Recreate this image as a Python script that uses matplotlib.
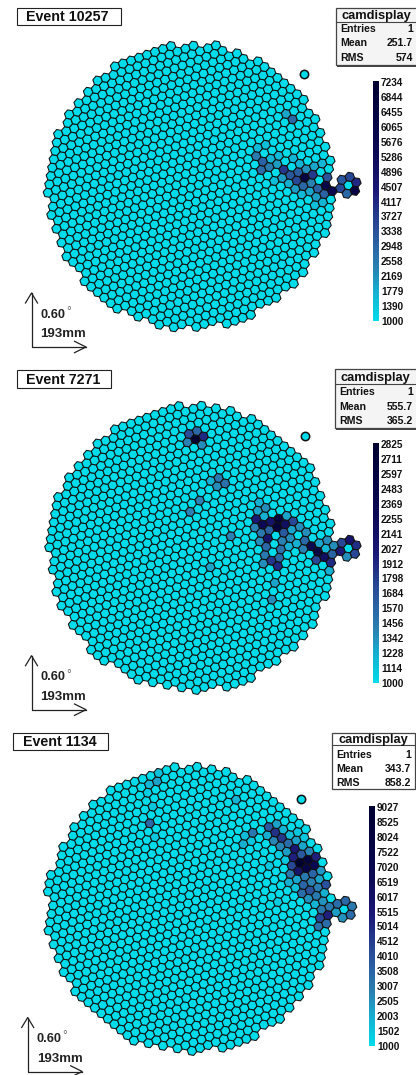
import numpy as np
import matplotlib
matplotlib.use("Agg")
import matplotlib.pyplot as plt
from matplotlib.collections import PolyCollection
from matplotlib.colors import LinearSegmentedColormap, Normalize

# eventi e statistiche
event_names = ["Event 10257", "Event 7271", "Event 1134"]
stat_mean = ["251.7", "555.7", "343.7"]
stat_rms = ["574", "365.2", "858.2"]
scale_labels_1 = [7234, 6844, 6455, 6065, 5676, 5286, 4896, 4507, 4117, 3727, 3338, 2948, 2558, 2169, 1779, 1390, 1000]
scale_labels_2 = [2825, 2711, 2597, 2483, 2369, 2255, 2141, 2027, 1912, 1798, 1684, 1570, 1456, 1342, 1228, 1114, 1000]
scale_labels_3 = [9027, 8525, 8024, 7522, 7020, 6519, 6017, 5515, 5014, 4512, 4010, 3508, 3007, 2505, 2003, 1502, 1000]

hot_x_1 = [175, 193, 85, 107, 83, 103, 98, 122, 148, 130, 150, 164, 190, 212, 183, 207, 160, 135, 178, 203, 226, 250, 230, 252, 272, 292, 245, 222, 197, 265, 289, 312, 307, 283, 258, 220, 240, 277, 262, 335, 358, 378, 372, 348, 328]
hot_y_1 = [165, 180, 260, 245, 287, 300, 325, 318, 310, 290, 285, 327, 300, 318, 345, 335, 350, 360, 368, 360, 352, 345, 330, 320, 315, 350, 370, 378, 385, 385, 377, 368, 393, 400, 408, 402, 393, 425, 443, 360, 350, 368, 393, 402, 385]
hot_v_1 = [1900, 2900, 1600, 1500, 2500, 3000, 2800, 2500, 2000, 1700, 1600, 3800, 1700, 1700, 3200, 3100, 2000, 1500, 1800, 3500, 6300, 3800, 2200, 1900, 1700, 3300, 2400, 2900, 2000, 3000, 6000, 4000, 5700, 3000, 2000, 1600, 1900, 1700, 1500, 3200, 3500, 4100, 6300, 2900, 3500]

hot_x_2 = [99, 122, 143, 119, 94, 137, 160, 184, 204, 180, 127, 98, 218, 155, 345, 335, 322, 302, 297, 293, 316, 338, 360, 385, 403, 313, 288, 332, 355, 378, 397, 422, 308, 374, 440, 328, 302, 370, 392, 415, 437, 322, 455, 364, 390, 435, 480, 502, 318, 360, 337, 312, 356, 473, 470, 492, 517, 512, 495, 525, 508, 545, 570, 590, 584, 560, 541]
hot_y_2 = [68, 60, 77, 86, 93, 101, 208, 200, 217, 226, 265, 298, 372, 462, 512, 562, 290, 275, 298, 322, 314, 332, 322, 315, 331, 340, 347, 355, 348, 340, 357, 348, 365, 365, 365, 381, 390, 390, 382, 398, 390, 406, 406, 413, 407, 413, 398, 390, 430, 437, 447, 455, 463, 422, 447, 439, 431, 456, 414, 405, 480, 397, 388, 405, 430, 440, 422]
hot_v_2 = [1700, 1550, 1900, 2825, 1400, 1360, 1220, 1450, 1500, 1360, 1400, 1400, 1400, 1270, 1270, 1360, 1360, 1220, 1270, 2000, 1220, 2100, 2640, 1270, 1730, 2280, 1400, 1580, 2640, 2190, 1270, 1360, 1450, 1640, 1360, 2100, 1360, 1400, 1360, 1220, 1550, 1550, 2370, 1500, 1220, 1400, 1270, 1360, 1450, 1550, 1820, 1360, 1900, 2550, 1730, 2190, 1580, 1900, 1180, 1360, 1220, 1730, 2100, 1870, 1730, 1360, 2000]

hot_x_3 = [80, 52, 73, 45, 62, 50, 65, 330, 378, 355, 375, 348, 425, 448, 470, 445, 420, 463, 440, 488, 510, 458, 482, 505, 530, 500, 478, 522, 545, 520, 497, 473, 453, 517, 540, 565, 558, 535, 512, 490, 555, 578, 530, 487, 505, 570, 593, 548, 525, 483, 568, 590, 543, 520, 500, 562, 585, 538, 558, 450, 425, 600, 580, 597, 572, 592, 567, 620, 625, 648, 668, 662, 638]
hot_y_3 = [48, 82, 73, 105, 147, 196, 238, 122, 222, 229, 245, 254, 205, 197, 212, 222, 230, 238, 247, 230, 222, 262, 255, 245, 237, 270, 278, 288, 280, 262, 296, 300, 287, 312, 303, 295, 320, 328, 337, 320, 345, 335, 352, 345, 352, 362, 376, 370, 378, 367, 387, 398, 395, 403, 378, 410, 428, 418, 432, 427, 318, 443, 455, 467, 477, 492, 500, 458, 433, 424, 441, 468, 475]
hot_v_3 = [1600, 1800, 2200, 1300, 1500, 3400, 1500, 1900, 3000, 1700, 1500, 2000, 3800, 2200, 1900, 4800, 2000, 4600, 2700, 1700, 1500, 2700, 3300, 2200, 1500, 5500, 2300, 3800, 2700, 2100, 5200, 1500, 1300, 9000, 8000, 5200, 6800, 7500, 5800, 4200, 3500, 2400, 3000, 3000, 2100, 2200, 4000, 2800, 3500, 2000, 2900, 2000, 4000, 3300, 1600, 3000, 2500, 2500, 1900, 1400, 1500, 3000, 3000, 5200, 4200, 3300, 3200, 2300, 3300, 3400, 3000, 3300, 2500]

crop_origin = [(230, 60), (160, 410), (130, 760)]
centers = [(190.5, 186), (191.5, 548), (189.5, 909)]
cluster_pos = [(348.3, 185.3), (348.3, 548.3), (344, 909.3)]
step = 8.5
font = "Liberation Sans"
cmap = LinearSegmentedColormap.from_list("cam", [(0, "#00dcea"), (0.11, "#14b4d4"), (0.22, "#2a82b2"), (0.38, "#2a4f9a"), (0.54, "#1c1a78"), (0.70, "#0c0a55"), (1, "#000030")])


def lattice(center, anchor):
    # griglia esagonale ruotata di circa 20 gradi, agganciata al gruppetto esterno
    a1 = step * np.array([np.cos(np.radians(-20)), np.sin(np.radians(-20))])
    a2 = step * np.array([np.cos(np.radians(-80)), np.sin(np.radians(-80))])
    pts = []
    for i in range(-50, 51):
        for j in range(-50, 51):
            p = i * a1 + j * a2 + np.array(anchor)
            if np.hypot(p[0] - center[0], p[1] - center[1]) < 143:
                pts.append(p)
    pts.append(np.array(anchor))
    for k in range(6):
        t = np.radians(-20 + 60 * k)
        pts.append(np.array(anchor) + step * np.array([np.cos(t), np.sin(t)]))
    return np.array(pts)


def hexagon(x, y, r):
    ang = np.radians(10 + 60 * np.arange(6))
    return np.column_stack([x + r * np.cos(ang), y + r * np.sin(ang)])


fig = plt.figure(figsize=(4.16, 10.75), dpi=100)
ax = fig.add_axes([0, 0, 1, 1])
ax.axis("off")

all_hot = [(hot_x_1, hot_y_1, hot_v_1), (hot_x_2, hot_y_2, hot_v_2), (hot_x_3, hot_y_3, hot_v_3)]
all_scale = [scale_labels_1, scale_labels_2, scale_labels_3]
title_box = [(17, 8, 120.5, 25), (17, 370, 111, 388), (13, 733, 108, 750)]
stats_box = [(336, 8, 420, 65), (335, 369, 420, 428), (332, 733, 415, 789)]
stats_fill = ["#f4f4f4", "#f4f4f4", "white"]
stats_rule = [22, 384, 745]
stats_title = [(376, 16), (375, 378), (373, 740)]
stats_rows = [(29.5, 43.5, 58), (392, 407, 420.5), (755, 768.5, 783)]
stats_right = [413, 413, 411]
bar_box = [(373, 81, 379, 321), (373, 443, 379, 683), (369, 806, 375, 1046)]
arrow_o = [(31.5, 347), (31.5, 709.7), (27.7, 1071.5)]
lone = [(304, 74), (304.7, 436), (301, 798.7)]

for n in range(3):
    pts = lattice(centers[n], cluster_pos[n])
    vals = np.full(len(pts), 1000.0)
    hx, hy, hv = all_hot[n]
    ox, oy = crop_origin[n]
    for x, y, v in zip(hx, hy, hv):
        d = np.hypot(pts[:, 0] - (ox + x / 3), pts[:, 1] - (oy + y / 3))
        vals[np.argmin(d)] = v
    scale = all_scale[n]
    norm = Normalize(scale[-1], scale[0])
    polys = [hexagon(p[0], p[1], step * 0.577) for p in pts]
    ax.add_collection(PolyCollection(polys, array=vals, cmap=cmap, norm=norm, edgecolors="#101010", linewidths=0.75, joinstyle="round"))
    lx, ly = lone[n]
    ax.scatter([lx], [ly], s=36, color=cmap(0.0), edgecolors="#101010", linewidths=1.1, zorder=3)

    # titolo
    x0, y0, x1, y1 = title_box[n]
    ax.fill([x0 + 1, x1 + 1, x1 + 1, x0 + 1], [y0 + 1, y0 + 1, y1 + 1, y1 + 1], color="#aaaaaa", lw=0)
    ax.fill([x0, x1, x1, x0], [y0, y0, y1, y1], facecolor="white", edgecolor="#222222", lw=0.8)
    ax.text((x0 + x1) / 2 - 1, (y0 + y1) / 2 + 0.5, event_names[n], ha="center", va="center", fontsize=10.3, fontweight="bold", family=font, color="#111111")

    # riquadro statistiche
    x0, y0, x1, y1 = stats_box[n]
    if n < 2:
        ax.fill([x0 + 1, x1, x1, x0 + 1], [y1, y1, y1 + 2, y1 + 2], color="#444444", lw=0)
    ax.fill([x0, x1, x1, x0], [y0, y0, y1, y1], facecolor=stats_fill[n], edgecolor="#444444", lw=0.9)
    ax.plot([x0, x1], [stats_rule[n], stats_rule[n]], color="#444444", lw=0.8)
    ax.text(stats_title[n][0], stats_title[n][1], "camdisplay", ha="center", va="center", fontsize=9.3, fontweight="bold", family=font, color="#111111")
    rows = [("Entries", "1"), ("Mean", stat_mean[n]), ("RMS", stat_rms[n])]
    for k, (a, b) in enumerate(rows):
        yy = stats_rows[n][k]
        ax.text(x0 + 4.5, yy, a, ha="left", va="center", fontsize=7.6, fontweight="bold", family=font, color="#111111")
        ax.text(stats_right[n], yy, b, ha="right", va="center", fontsize=7.6, fontweight="bold", family=font, color="#111111")

    # scala colori
    x0, y0, x1, y1 = bar_box[n]
    grad = np.linspace(scale[0], scale[-1], 256).reshape(-1, 1)
    ax.imshow(grad, extent=(x0, x1, y1, y0), cmap=cmap, norm=norm, aspect="auto", zorder=2)
    for k, lab in enumerate(scale):
        ax.text(x1 + 2, y0 + 2 + k * (y1 - y0 - 1) / 16, str(lab), ha="left", va="center", fontsize=7.2, fontweight="bold", family=font, color="#111111")

    # frecce di scala
    ox, oy = arrow_o[n]
    ax.plot([ox, ox, ox + 54.5], [oy - 54, oy, oy], color="#222222", lw=0.9)
    ax.plot([ox - 6, ox, ox + 6], [oy - 44, oy - 54, oy - 44], color="#222222", lw=0.9)
    ax.plot([ox + 43, ox + 54.5, ox + 43], [oy - 5.7, oy, oy + 5.7], color="#222222", lw=0.9)
    ax.text(ox + 9, oy - 32.5, "0.60", ha="left", va="center", fontsize=9.2, fontweight="bold", family=font, color="#222222")
    ax.text(ox + 35, oy - 35, "\u00b0", ha="left", va="center", fontsize=8.5, family=font, color="#666666")
    ax.text(ox + 9, oy - 13, "193mm", ha="left", va="center", fontsize=9.5, fontweight="bold", family=font, color="#222222")

ax.set_xlim(0, 416)
ax.set_ylim(1075, 0)
fig.savefig("out.png", dpi=100)
